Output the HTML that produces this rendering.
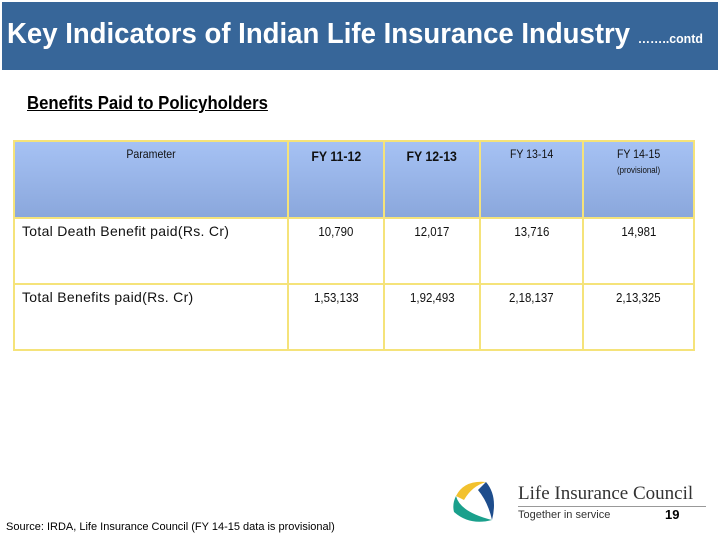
<!DOCTYPE html>
<html><head><meta charset="utf-8"><style>
body{margin:0;width:720px;height:540px;background:#fff;position:relative;overflow:hidden;font-family:"Liberation Sans",sans-serif}
.a{position:absolute;white-space:nowrap}
#bar{left:2px;top:2px;width:716px;height:68px;background:#376699}
table{position:absolute;left:13px;top:140px;border-collapse:collapse;width:682px;table-layout:fixed}
td,th{border:2px solid #f5e37a;padding:0;vertical-align:top;font-weight:normal;color:#111;font-size:12px;box-sizing:border-box}
th{height:77px;background:linear-gradient(#a6c2f4,#8aa7dc);padding-top:5px}
td{height:66px;padding-top:5px;text-align:center;font-size:13px}
td.l{text-align:left;padding-left:7px;font-size:14px;letter-spacing:.3px;padding-top:4px}
.n{display:inline-block;transform:scaleX(.88);transform-origin:center}
</style></head><body>
<div id="bar" class="a"></div>
<div class="a" style="left:7px;top:18px;color:#fff;font-size:29px;font-weight:bold;transform:scaleX(.95);transform-origin:left">Key Indicators of Indian Life Insurance Industry <span style="font-size:13px">……..contd</span></div>
<div class="a" style="left:27px;top:93px;font-size:18px;font-weight:bold;text-decoration:underline;transform:scaleX(.93);transform-origin:left">Benefits Paid to Policyholders</div>
<table>
<colgroup><col style="width:274px"><col style="width:96px"><col style="width:96px"><col style="width:103px"><col></colgroup>
<tr>
<th><span class="n">Parameter</span></th>
<th style="font-size:14px;font-weight:bold;padding-top:6px"><span class="n">FY 11-12</span></th>
<th style="font-size:14px;font-weight:bold;padding-top:6px"><span class="n">FY 12-13</span></th>
<th><span class="n">FY 13-14</span></th>
<th><span class="n">FY 14-15</span><br><span class="n" style="font-size:9px;margin-top:4px">(provisional)</span></th>
</tr>
<tr>
<td class="l">Total Death Benefit paid(Rs. Cr)</td><td><span class="n">10,790</span></td><td><span class="n">12,017</span></td><td><span class="n">13,716</span></td><td><span class="n">14,981</span></td>
</tr>
<tr>
<td class="l">Total Benefits paid(Rs. Cr)</td><td><span class="n">1,53,133</span></td><td><span class="n">1,92,493</span></td><td><span class="n">2,18,137</span></td><td><span class="n">2,13,325</span></td>
</tr>
</table>
<div class="a" style="left:6px;top:521px;font-size:11px">Source: IRDA, Life Insurance Council (FY 14-15 data is provisional)</div>
<svg class="a" style="left:450px;top:478px" width="48" height="46">
<path d="M6 18 Q14 2 36 4 Q22 8 14 22 Z" fill="#f2c12e"/>
<path d="M36 4 Q48 18 42 42 Q38 24 28 12 Z" fill="#1e4d8c"/>
<path d="M42 42 Q20 48 4 34 Q2 26 6 18 Q10 34 42 42 Z" fill="#1aa08c"/>
</svg>
<div class="a" style="left:518px;top:483px;font-family:'Liberation Serif',serif;font-size:19px;color:#333">Life Insurance Council</div>
<div class="a" style="left:518px;top:506px;width:188px;height:1px;background:#999"></div>
<div class="a" style="left:518px;top:509px;font-size:11px;color:#333">Together in service</div>
<div class="a" style="left:665px;top:507px;font-size:13px;font-weight:bold">19</div>
</body></html>
